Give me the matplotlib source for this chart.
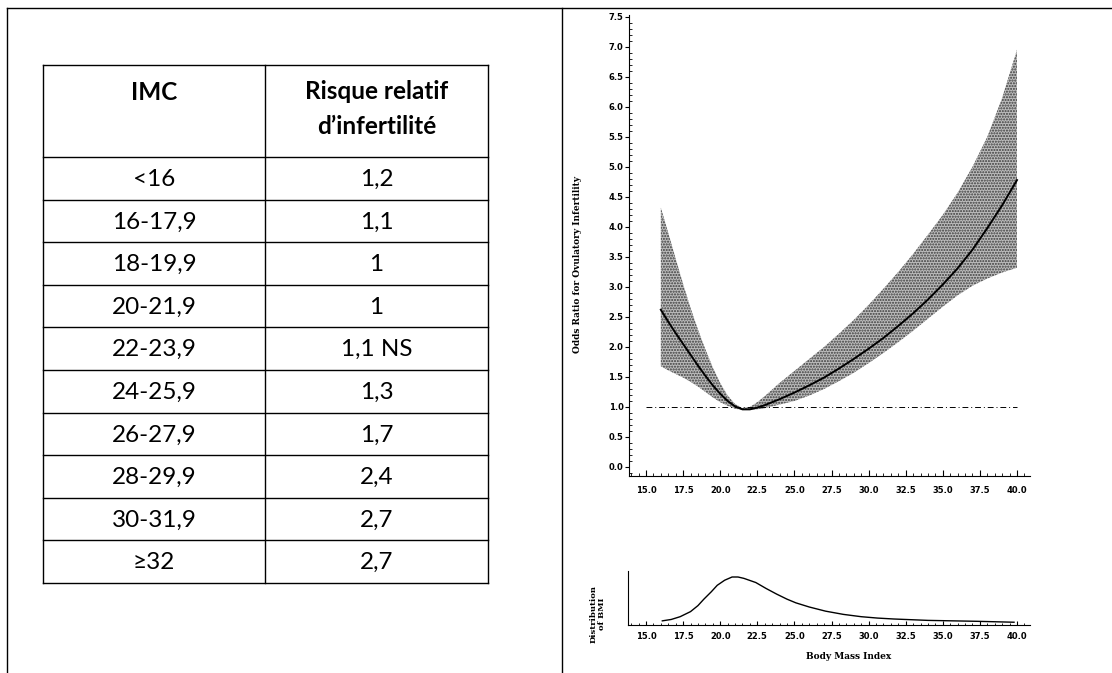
import numpy as np
import matplotlib
matplotlib.use("Agg")
import matplotlib.pyplot as plt
from matplotlib.ticker import MultipleLocator

# table data
imc_classes = ["<16", "16-17,9", "18-19,9", "20-21,9", "22-23,9",
               "24-25,9", "26-27,9", "28-29,9", "30-31,9", "≥32"]
risk_values = ["1,2", "1,1", "1", "1", "1,1 NS", "1,3", "1,7", "2,4", "2,7", "2,7"]
header = ["IMC", "Risque relatif\nd\u2019infertilité"]

# odds ratio curve
bmi = [16, 16.5, 17, 17.5, 18, 18.5, 19, 19.5, 20, 20.5, 21, 21.5, 22, 22.5, 23,
       24, 25, 26, 27, 28, 29, 30, 31, 32, 33, 34, 35, 36, 37, 38, 39, 40]
or_mid = [2.62, 2.42, 2.23, 2.05, 1.87, 1.69, 1.52, 1.36, 1.22, 1.10, 1.01, 0.96,
          0.96, 0.99, 1.03, 1.13, 1.24, 1.36, 1.49, 1.64, 1.80, 1.97, 2.15, 2.35,
          2.56, 2.79, 3.04, 3.31, 3.62, 3.98, 4.36, 4.78]
or_upper = [4.32, 3.90, 3.47, 3.05, 2.65, 2.29, 1.96, 1.66, 1.40, 1.19, 1.05, 0.98,
            1.00, 1.08, 1.18, 1.40, 1.60, 1.80, 2.00, 2.22, 2.45, 2.70, 2.97, 3.25,
            3.55, 3.87, 4.20, 4.57, 5.00, 5.50, 6.15, 6.95]
or_lower = [1.68, 1.61, 1.55, 1.49, 1.42, 1.34, 1.25, 1.16, 1.08, 1.02, 0.97, 0.95,
            0.95, 0.96, 0.98, 1.04, 1.10, 1.19, 1.30, 1.43, 1.57, 1.73, 1.90, 2.08,
            2.27, 2.47, 2.67, 2.86, 3.02, 3.14, 3.24, 3.32]
ref_x = [15.0, 40.0]
ref_or = 1.0

# BMI distribution (relative density)
dist_bmi = [16.1, 16.7, 17.3, 18.0, 18.5, 18.9, 19.4, 19.8, 20.3, 20.8, 21.2,
            21.6, 22.4, 23.1, 23.8, 24.5, 25.1, 26.0, 27.1, 28.3, 29.5, 30.6,
            31.7, 34.0, 37.3, 39.8]
dist_val = [0.05, 0.08, 0.14, 0.25, 0.38, 0.52, 0.68, 0.82, 0.93, 1.00, 1.00,
            0.97, 0.88, 0.75, 0.63, 0.52, 0.44, 0.35, 0.26, 0.19, 0.14, 0.11,
            0.09, 0.06, 0.04, 0.02]

W, H = 1112, 673
fig = plt.figure(figsize=(W / 100, H / 100), dpi=100)

# background axes in pixel coords for frame + table
bg = fig.add_axes([0, 0, 1, 1])
bg.set_xlim(0, W)
bg.set_ylim(H, 0)
bg.axis("off")

bg.plot([7, W], [8, 8], color="black", lw=1.0)
bg.plot([7, 7], [8, H], color="black", lw=1.0)
bg.plot([562, 562], [8, H], color="black", lw=1.0)

col_x = [43, 265, 488]
head_top, head_bot, row_h = 65, 157, 42.6
n = len(imc_classes)
table_bot = head_bot + n * row_h
tfont = ["Lato", "DejaVu Sans"]
fs = 17.5

for x in col_x:
    bg.plot([x, x], [head_top, table_bot], color="black", lw=1.0)
bg.plot([col_x[0], col_x[-1]], [head_top, head_top], color="black", lw=1.0)
for i in range(n + 1):
    y = head_bot + i * row_h
    bg.plot([col_x[0], col_x[-1]], [y, y], color="black", lw=1.0)

bg.text((col_x[0] + col_x[1]) / 2, 93, header[0], ha="center", va="center",
        fontsize=fs, fontweight="bold", family=tfont)
bg.text((col_x[1] + col_x[2]) / 2, 109, header[1], ha="center", va="center",
        fontsize=fs, fontweight="bold", family=tfont, linespacing=1.65)
for i in range(n):
    yc = head_bot + (i + 0.5) * row_h + 1
    bg.text((col_x[0] + col_x[1]) / 2, yc, imc_classes[i], ha="center", va="center",
            fontsize=fs, family=tfont)
    bg.text((col_x[1] + col_x[2]) / 2, yc, risk_values[i], ha="center", va="center",
            fontsize=fs, family=tfont)

# main odds ratio plot
px0, px1 = 629, 1030
xlim = (15 + (px0 - 646) / 14.84, 15 + (px1 - 646) / 14.84)
ax = fig.add_axes([px0 / W, 1 - 476 / H, (px1 - px0) / W, (476 - 15) / H])
ax.fill_between(bmi, or_lower, or_upper, facecolor="#bdbdbd", edgecolor="#3a3a3a",
                hatch="......", linewidth=0)
ax.plot(bmi, or_mid, color="black", lw=1.4)
ax.plot(ref_x, [ref_or, ref_or], color="black", lw=0.7, ls=(0, (6, 3, 1, 3)))
ax.set_xlim(*xlim)
ax.set_ylim(-0.15, 7.53)
for s in ["top", "right"]:
    ax.spines[s].set_visible(False)

xt = np.arange(15, 40.01, 2.5)
ax.set_xticks(xt)
ax.set_xticklabels(["%.1f" % v for v in xt], fontsize=6, fontweight="bold")
yt = np.arange(0, 7.51, 0.5)
ax.set_yticks(yt)
ax.set_yticklabels(["%.1f" % v for v in yt], fontsize=6, fontweight="bold")
ax.xaxis.set_minor_locator(MultipleLocator(0.5))
ax.yaxis.set_minor_locator(MultipleLocator(0.1))
ax.tick_params(axis="x", which="major", direction="in", length=4, pad=7)
ax.tick_params(axis="x", which="minor", direction="in", length=2)
ax.tick_params(axis="y", which="major", direction="out", length=3, pad=1)
ax.tick_params(axis="y", which="minor", direction="in", length=2)
ax.set_ylabel("Odds Ratio for Ovulatory Infertility", fontsize=6.5,
              fontweight="bold", family="DejaVu Serif")
ax.yaxis.set_label_coords(-0.117, 0.458)

# distribution panel
ax2 = fig.add_axes([628 / W, 1 - 625 / H, (px1 - 628) / W, (625 - 571) / H])
ax2.plot(dist_bmi, dist_val, color="black", lw=1.0)
ax2.set_xlim(15 + (628 - 646) / 14.84, xlim[1])
ax2.set_ylim(-0.04, 1.13)
for s in ["top", "right"]:
    ax2.spines[s].set_visible(False)
ax2.set_yticks([])
ax2.set_xticks(xt)
ax2.set_xticklabels(["%.1f" % v for v in xt], fontsize=6, fontweight="bold")
ax2.xaxis.set_minor_locator(MultipleLocator(0.5))
ax2.tick_params(axis="x", which="major", direction="in", length=3, pad=5)
ax2.tick_params(axis="x", which="minor", direction="in", length=1.5)
ax2.set_xlabel("Body Mass Index", fontsize=6.5, fontweight="bold", family="DejaVu Serif")
ax2.xaxis.set_label_coords(0.55, -0.5)
ax2.set_ylabel("Distribution\nof BMI", fontsize=6, fontweight="bold",
               family="DejaVu Serif", linespacing=1.0)
ax2.yaxis.set_label_coords(-0.055, 0.2)

fig.savefig("out.png", dpi=100)
